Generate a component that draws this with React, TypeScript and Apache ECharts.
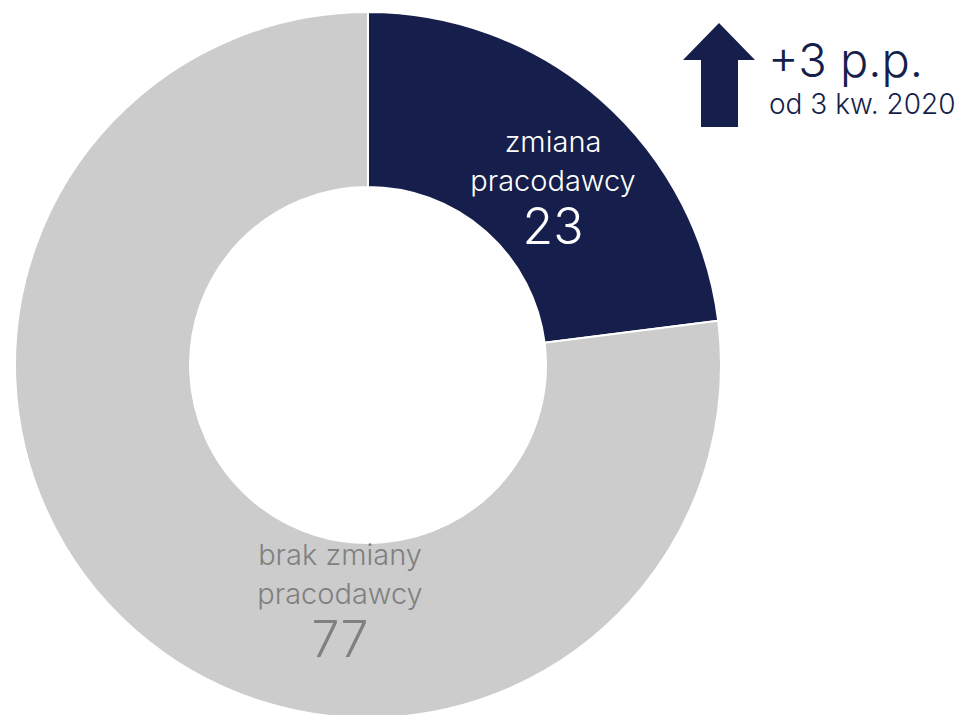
import React, { useEffect, useRef } from "react";
import * as echarts from "echarts";

const categories = ["zmiana\npracodawcy", "brak zmiany\npracodawcy"];
const values = [23, 77];
const changeLabel = "+3 p.p.";
const changeSub = "od 3 kw. 2020";

const NAVY = "#161f4c";
const GRAY = "#cccccc";
const LABEL_GRAY = "#808080";
const FONT = "Inter, 'Noto Sans', sans-serif";

export default function App() {
  const ref = useRef<HTMLDivElement>(null);
  useEffect(() => {
    if (!ref.current) return;
    const chart = echarts.init(ref.current, null, { renderer: "svg" });
    const labelPos = [
      { x: 553, y: 187 },
      { x: 340, y: 600 },
    ];
    chart.setOption({
      animation: false,
      backgroundColor: "#ffffff",
      series: [
        {
          type: "pie",
          center: [368, 365],
          radius: [178, 353],
          startAngle: 90,
          clockwise: true,
          silent: true,
          itemStyle: { borderColor: "#ffffff", borderWidth: 2 },
          label: {
            show: true,
            position: "inside",
            formatter: (p: any) => {
              const lines = String(p.name).split("\n");
              return lines.map((l: string) => `{n|${l}}`).join("\n") + `\n{v|${p.value}}`;
            },
            rich: {
              n: { fontFamily: FONT, fontSize: 29, lineHeight: 39, fontWeight: 300 },
              v: { fontFamily: FONT, fontSize: 50, lineHeight: 52, fontWeight: 300 },
            },
            align: "center",
          },
          labelLayout: (params: any) => ({
            x: labelPos[params.dataIndex].x,
            y: labelPos[params.dataIndex].y,
            align: "center",
            verticalAlign: "middle",
          }),
          labelLine: { show: false },
          data: categories.map((c, i) => ({
            name: c,
            value: values[i],
            itemStyle: { color: i === 0 ? NAVY : GRAY },
            label: {
              color: i === 0 ? "#ffffff" : LABEL_GRAY,
              rich: {
                n: { color: i === 0 ? "#ffffff" : LABEL_GRAY },
                v: { color: i === 0 ? "#ffffff" : LABEL_GRAY },
              },
            },
          })),
        },
      ],
      graphic: [
        {
          type: "polygon",
          shape: {
            points: [
              [719, 23],
              [755, 60],
              [738, 60],
              [738, 127],
              [701, 127],
              [701, 60],
              [683, 60],
            ],
          },
          style: { fill: NAVY },
        },
        {
          type: "text",
          x: 768,
          y: 59,
          style: {
            text: changeLabel,
            font: `300 47px ${FONT}`,
            fill: NAVY,
            textVerticalAlign: "middle",
          },
        },
        {
          type: "text",
          x: 769,
          y: 104,
          style: {
            text: changeSub,
            font: `300 28px ${FONT}`,
            fill: NAVY,
            textVerticalAlign: "middle",
          },
        },
      ],
    });
    return () => chart.dispose();
  }, []);
  return (
    <div
      ref={ref}
      style={{ position: "fixed", left: 0, top: 0, width: 974, height: 715 }}
    />
  );
}
